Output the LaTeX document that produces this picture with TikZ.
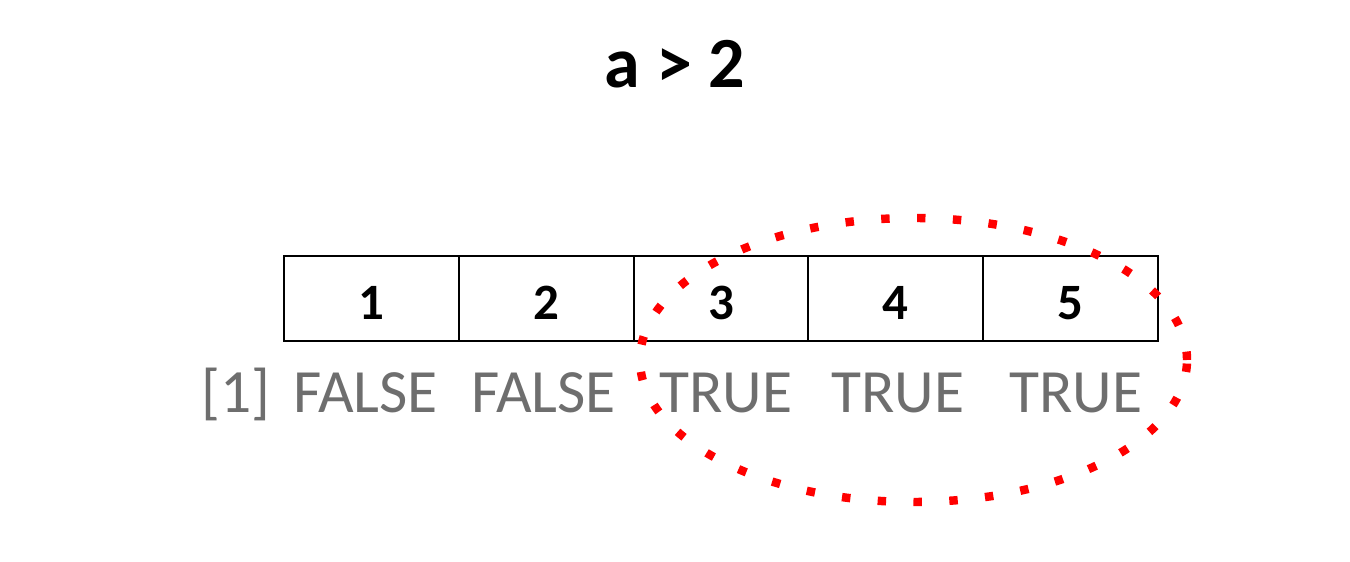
\documentclass[tikz,border=0pt]{standalone}
\usepackage{fontspec}
\setmainfont{Carlito}
\usepackage{xcolor}
\usepackage{tikz}
\definecolor{outgray}{RGB}{110,110,110}

\begin{document}
\begin{tikzpicture}[
  cellbox/.style={draw, line width=1.1pt, minimum width=3.496cm, minimum height=1.7cm,
    inner sep=0pt, text height=0.85cm, font=\fontsize{29}{34}\selectfont\bfseries},
  outword/.style={anchor=base west, inner sep=0pt, text=outgray, font=\fontsize{35}{42}\selectfont},
  selring/.style={red, line width=4.8pt, dash pattern=on 4.8pt off 15.6pt}
]
\useasboundingbox (0,0) rectangle (27,11.24);

\node[anchor=base, font=\fontsize{41}{49}\selectfont\bfseries] (title) at (13.49,9.48) {a > 2};

% the vector a
\node[cellbox] (c1) at (7.428,5.27) {1};
\node[cellbox] (c2) at (10.924,5.27) {2};
\node[cellbox] (c3) at (14.42,5.27) {3};
\node[cellbox] (c4) at (17.916,5.27) {4};
\node[cellbox] (c5) at (21.412,5.27) {5};

% printed result
\node[outword] (r0) at (4.02,2.98) {[1]};
\node[outword] (r1) at (5.86,2.98) {FALSE};
\node[outword] (r2) at (9.42,2.98) {FALSE};
\node[outword] (r3) at (13.18,2.98) {TRUE};
\node[outword] (r4) at (16.62,2.98) {TRUE};
\node[outword] (r5) at (20.18,2.98) {TRUE};

\draw[selring] (18.27,4.04) ellipse (5.47cm and 2.84cm);
\end{tikzpicture}
\end{document}
